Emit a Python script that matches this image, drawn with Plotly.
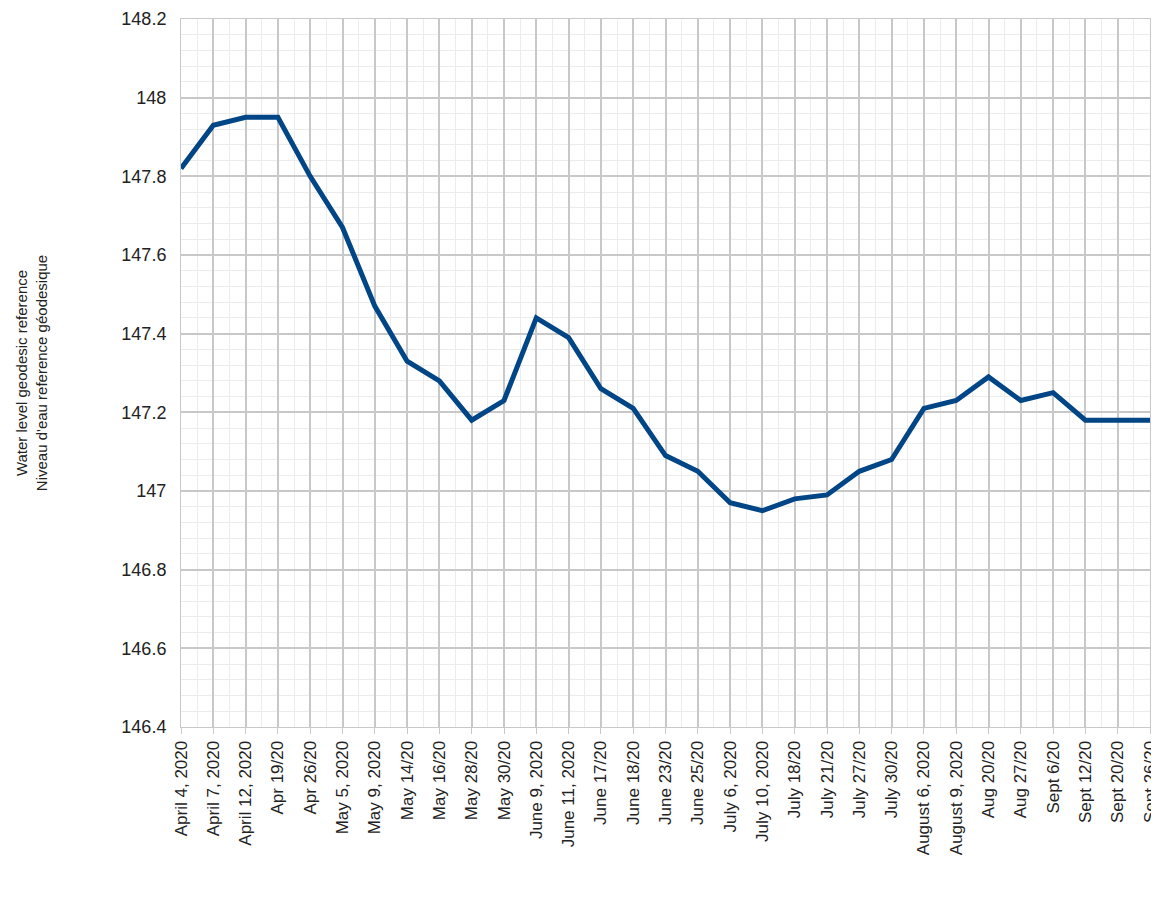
import plotly.graph_objects as go

dates = ["April 4, 2020", "April 7, 2020", "April 12, 2020", "Apr 19/20", "Apr 26/20",
         "May 5, 2020", "May 9, 2020", "May 14/20", "May 16/20", "May 28/20", "May 30/20",
         "June 9, 2020", "June 11, 2020", "June 17/20", "June 18/20", "June 23/20", "June 25/20",
         "July 6, 2020", "July 10, 2020", "July 18/20", "July 21/20", "July 27/20", "July 30/20",
         "August 6, 2020", "August 9, 2020", "Aug 20/20", "Aug 27/20", "Sept 6/20",
         "Sept 12/20", "Sept 20/20", "Sept 26/20"]
levels = [147.82, 147.93, 147.95, 147.95, 147.80, 147.67, 147.47, 147.33, 147.28, 147.18,
          147.23, 147.44, 147.39, 147.26, 147.21, 147.09, 147.05, 146.97, 146.95, 146.98,
          146.99, 147.05, 147.08, 147.21, 147.23, 147.29, 147.23, 147.25, 147.18, 147.18, 147.18]

idx = list(range(len(dates)))

fig = go.Figure(go.Scatter(x=idx, y=levels, mode="lines",
                           line=dict(color="#004586", width=5)))

fig.update_layout(
    width=1159, height=898,
    margin=dict(l=173, r=17, t=11, b=179),
    plot_bgcolor="white", paper_bgcolor="white",
    font=dict(family="Liberation Sans, Arial", size=17, color="#222"),
    showlegend=False,
)
fig.update_xaxes(range=[0, 30], tickmode="array", tickvals=idx, ticktext=dates,
                 tickangle=-90, showgrid=True, gridcolor="#c8c8c8", gridwidth=1.5,
                 minor=dict(dtick=0.5, showgrid=True, gridcolor="#ececec", gridwidth=1),
                 ticks="outside", ticklen=6, tickcolor="#c8c8c8", automargin=False,
                 showline=True, linecolor="#c8c8c8", mirror=True, zeroline=False)
fig.update_yaxes(range=[146.4, 148.2], dtick=0.2, showgrid=True,
                 gridcolor="#c8c8c8", gridwidth=1.5,
                 minor=dict(dtick=0.04, showgrid=True, gridcolor="#ececec", gridwidth=1),
                 showline=True, linecolor="#c8c8c8", mirror=True, zeroline=False,
                 tickformat="~r", ticksuffix="  ", tickfont=dict(size=18), automargin=False,
                 title=dict(text="Water level geodesic reference<br>Niveau d'eau reference géodesique",
                            font=dict(size=15), standoff=70))

fig.write_html("out.html")
